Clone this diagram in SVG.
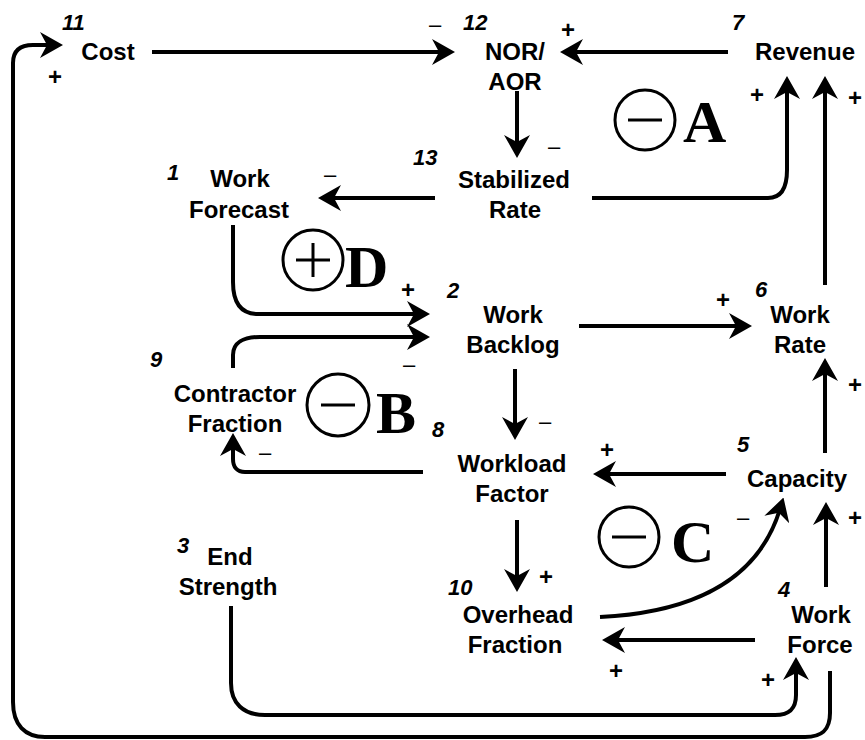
<svg xmlns="http://www.w3.org/2000/svg" width="865" height="740" viewBox="0 0 865 740">
<style>
.lbl{font-family:"Liberation Sans",Arial,sans-serif;font-weight:bold;font-size:24px;text-anchor:middle;fill:#000}
.num{font-family:"Liberation Sans",Arial,sans-serif;font-weight:bold;font-style:italic;font-size:22px;fill:#000}
.plus{font-family:"Liberation Sans",Arial,sans-serif;font-weight:bold;font-size:24px;text-anchor:middle;fill:#000}
.minus{font-family:"Liberation Sans",Arial,sans-serif;font-weight:normal;font-size:22px;text-anchor:middle;fill:#000}
.loop{font-family:"Liberation Serif","Times New Roman",serif;font-weight:bold;font-size:60px;fill:#000}
.c{fill:none;stroke:#000;stroke-width:4;marker-end:url(#ah)}
.ring{fill:none;stroke:#000;stroke-width:3}
</style>
<defs>
<marker id="ah" markerUnits="userSpaceOnUse" markerWidth="23" markerHeight="26" viewBox="0 0 23 26" refX="11" refY="13" orient="auto">
<path d="M0,0 L23,13 L0,26 L7,13 Z" fill="#000"/>
</marker>
</defs>
<rect width="865" height="740" fill="#fff"/>
<g id="connectors">
<path class="c" d="M152,52 H443"/>
<path class="c" d="M728,52 H572"/>
<path class="c" d="M517,91 V146"/>
<path class="c" d="M435,198 H330"/>
<path class="c" d="M592,198 H768 C782,198 787,186 787,170 V88"/>
<path class="c" d="M825,285 V88"/>
<path class="c" d="M233,225 V282 C233,302 240,314 258,314 H418"/>
<path class="c" d="M233,368 V355 C233,343 243,337 260,337 H418"/>
<path class="c" d="M579,326 H740"/>
<path class="c" d="M515,369 V428"/>
<path class="c" d="M423,472 H245 C237,472 233,467 233,459 V445"/>
<path class="c" d="M726,474 H605"/>
<path class="c" d="M825,453 V370"/>
<path class="c" d="M517,520 V580"/>
<path class="c" d="M600,617 C700,612 760,575 780,509"/>
<path class="c" d="M755,640 H614"/>
<path class="c" d="M826,587 V514"/>
<path class="c" d="M231,606 V683 C231,703 243,715 265,715 H775 C790,715 796,708 796,695 V669"/>
<path class="c" d="M830,671 V713 C830,730 822,737 805,737 H45 C25,737 13,725 13,702 V63 C13,51 20,45 33,45 H51"/>
</g>
<g id="n11"><text class="num" x="62" y="30">11</text><text class="lbl" x="108" y="60">Cost</text></g>
<g id="n12"><text class="num" x="463" y="30">12</text><text class="lbl" x="515" y="60">NOR/</text><text class="lbl" x="515" y="90">AOR</text></g>
<g id="n7"><text class="num" x="732" y="30">7</text><text class="lbl" x="805" y="60">Revenue</text></g>
<g id="n13"><text class="num" x="413" y="165">13</text><text class="lbl" x="514" y="188">Stabilized</text><text class="lbl" x="515" y="218">Rate</text></g>
<g id="n1"><text class="num" x="167" y="180">1</text><text class="lbl" x="240" y="187">Work</text><text class="lbl" x="239" y="218">Forecast</text></g>
<g id="n2"><text class="num" x="447" y="298">2</text><text class="lbl" x="513" y="323">Work</text><text class="lbl" x="513" y="353">Backlog</text></g>
<g id="n6"><text class="num" x="755" y="297">6</text><text class="lbl" x="800" y="323">Work</text><text class="lbl" x="800" y="353">Rate</text></g>
<g id="n9"><text class="num" x="150" y="367">9</text><text class="lbl" x="235" y="402">Contractor</text><text class="lbl" x="235" y="432">Fraction</text></g>
<g id="n8"><text class="num" x="432" y="437">8</text><text class="lbl" x="512" y="472">Workload</text><text class="lbl" x="512" y="502">Factor</text></g>
<g id="n5"><text class="num" x="737" y="452">5</text><text class="lbl" x="797" y="487">Capacity</text></g>
<g id="n3"><text class="num" x="177" y="553">3</text><text class="lbl" x="230" y="565">End</text><text class="lbl" x="228" y="595">Strength</text></g>
<g id="n10"><text class="num" x="448" y="595">10</text><text class="lbl" x="518" y="623">Overhead</text><text class="lbl" x="515" y="653">Fraction</text></g>
<g id="n4"><text class="num" x="778" y="597">4</text><text class="lbl" x="821" y="623">Work</text><text class="lbl" x="820" y="653">Force</text></g>
<g id="signs">
<text class="minus" x="435" y="32">–</text>
<text class="plus" x="568" y="38">+</text>
<text class="plus" x="55" y="85">+</text>
<text class="plus" x="757" y="103">+</text>
<text class="plus" x="855" y="106">+</text>
<text class="minus" x="554" y="154">–</text>
<text class="minus" x="330" y="182">–</text>
<text class="plus" x="408" y="298">+</text>
<text class="minus" x="409" y="372">–</text>
<text class="minus" x="265" y="460">–</text>
<text class="plus" x="723" y="308">+</text>
<text class="minus" x="545" y="429">–</text>
<text class="plus" x="607" y="458">+</text>
<text class="plus" x="855" y="393">+</text>
<text class="minus" x="743" y="525">–</text>
<text class="plus" x="855" y="526">+</text>
<text class="plus" x="546" y="585">+</text>
<text class="plus" x="616" y="679">+</text>
<text class="plus" x="768" y="688">+</text>
</g>
<g id="loopA"><circle class="ring" cx="645" cy="120" r="30"/><line x1="628" y1="120" x2="662" y2="120" stroke="#000" stroke-width="3"/><text class="loop" x="683" y="142">A</text></g>
<g id="loopD"><circle class="ring" cx="313" cy="260" r="30"/><line x1="296" y1="260" x2="330" y2="260" stroke="#000" stroke-width="3"/><line x1="313" y1="243" x2="313" y2="277" stroke="#000" stroke-width="3"/><text class="loop" x="345" y="287">D</text></g>
<g id="loopB"><circle class="ring" cx="338" cy="405" r="31"/><line x1="321" y1="405" x2="355" y2="405" stroke="#000" stroke-width="3"/><text class="loop" x="376" y="433">B</text></g>
<g id="loopC"><circle class="ring" cx="629" cy="537" r="30"/><line x1="612" y1="537" x2="646" y2="537" stroke="#000" stroke-width="3"/><text class="loop" x="671" y="562">C</text></g>
</svg>
